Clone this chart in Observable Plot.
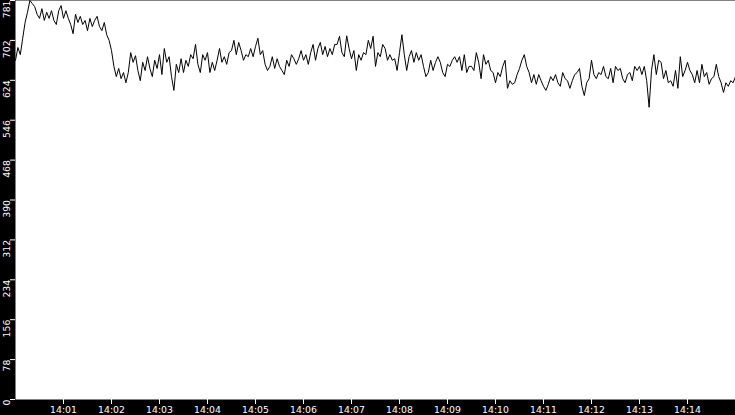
<!DOCTYPE html>
<html><head><meta charset="utf-8">
<script src="https://cdn.jsdelivr.net/npm/d3@7"></script>
<script src="https://cdn.jsdelivr.net/npm/@observablehq/plot@0.6"></script>
<style>
html,body{margin:0;padding:0;background:#000;}
#chart svg{display:block;}
</style></head><body><div id="chart"></div>
<script>
// Sampling: one reading every 3 seconds from 14:00:00
const startTime = "14:00:00";
const endTime = "14:15:00";
const stepSeconds = 3;
const values = [
664,689,675,707,738,758,781,775,769,754,746,765,742,758,746,761,742,734,761,771,746,761,746,734,716,754,738,750,734,742,722,746,730,742,750,730,722,738,714,703,683,652,632,648,628,640,620,
640,679,660,673,644,624,660,644,671,648,632,664,648,675,636,687,660,671,632,605,656,640,667,640,664,652,675,667,695,656,640,675,664,679,640,660,644,
664,687,660,671,656,679,683,703,675,699,683,664,675,671,687,671,691,707,675,683,656,644,652,671,648,667,652,644,636,664,652,675,667,656,667,
683,664,675,656,679,695,664,687,699,675,691,671,687,675,695,695,711,679,671,712,687,667,683,644,675,664,679,675,703,687,711,652,679,671,695,
687,664,675,664,667,644,679,714,675,644,671,683,660,679,664,675,652,632,640,664,644,660,671,660,640,632,656,652,664,671,660,671,644,675,640,652,
652,644,679,660,628,675,656,664,644,640,620,640,632,652,664,609,624,617,620,636,648,664,675,652,640,620,636,617,636,624,613,605,617,632,624,
636,620,613,640,628,624,609,624,636,640,648,613,595,620,628,664,636,628,640,636,652,632,628,648,620,652,644,648,628,620,636,640,624,652,644,
652,636,652,624,572,644,675,636,664,660,628,644,620,624,613,644,609,671,632,644,660,644,636,620,644,620,656,632,640,617,628,632,656,632,620,601,620,613,624,620,632
];
const yMax = 781;
const yTickCount = 10;
const xTickLabels = ["14:01","14:02","14:03","14:04","14:05","14:06","14:07","14:08","14:09","14:10","14:11","14:12","14:13","14:14"];

const parse = s => { const [h, m, sec = 0] = s.split(":").map(Number); return new Date(Date.UTC(2000, 0, 1, h, m, sec)); };
const t0 = parse(startTime);
const data = values.map((v, i) => ({t: new Date(t0.getTime() + i * stepSeconds * 1000), v}));
const yTicks = d3.range(yTickCount + 1).map(i => yMax * i / yTickCount);

const chart = Plot.plot({
  width: 735, height: 415,
  marginLeft: 15, marginRight: 0, marginTop: 0, marginBottom: 16,
  style: {background: "black", fontFamily: "DejaVu Sans", fontSize: "9.3px", overflow: "visible"},
  x: {type: "utc", domain: [t0, parse(endTime)]},
  y: {domain: [0, yMax]},
  marks: [
    Plot.frame({fill: "white", stroke: "none"}),
    Plot.axisY({ticks: yTicks, tickFormat: d => String(Math.floor(d + 1e-9)), tickSize: 5, tickPadding: 1,
      tickRotate: -90, textAnchor: "end", lineAnchor: "bottom", color: "white", fontSize: 9.3, label: null}),
    Plot.axisX({ticks: xTickLabels.map(parse), tickFormat: d3.utcFormat("%H:%M"), tickSize: 5, tickPadding: 2,
      color: "white", fontSize: 9.3, label: null}),
    Plot.line(data, {x: "t", y: "v", stroke: "black", strokeWidth: 1})
  ]
});
document.getElementById("chart").appendChild(chart);
</script>
</body></html>
